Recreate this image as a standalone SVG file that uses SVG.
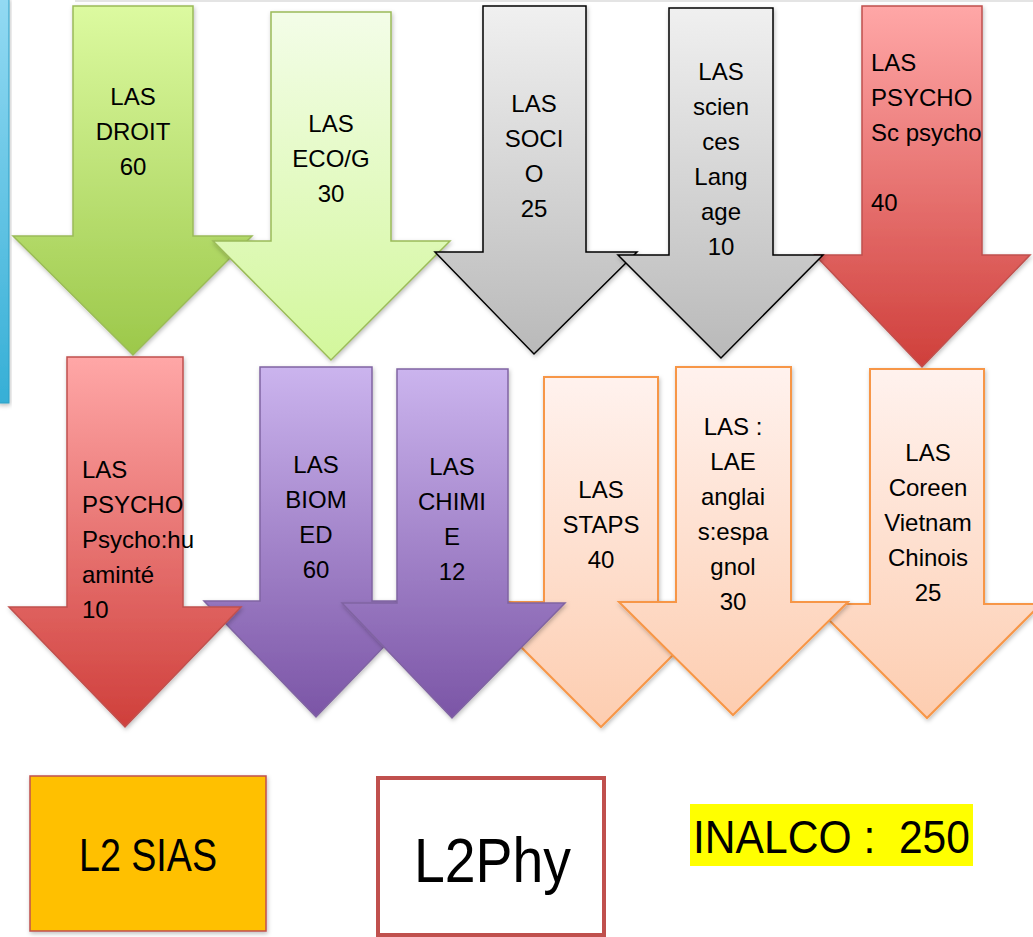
<svg xmlns="http://www.w3.org/2000/svg" width="1033" height="937" viewBox="0 0 1033 937">
<defs>
<linearGradient id="gGreen1" x1="0" y1="0" x2="0" y2="1"><stop offset="0" stop-color="#dcfaa0"/><stop offset="1" stop-color="#9cc84a"/></linearGradient>
<linearGradient id="gGreen2" x1="0" y1="0" x2="0" y2="1"><stop offset="0" stop-color="#f3fde8"/><stop offset="1" stop-color="#d3f79c"/></linearGradient>
<linearGradient id="gGray" x1="0" y1="0" x2="0" y2="1"><stop offset="0" stop-color="#f0f0f0"/><stop offset="1" stop-color="#b9b9b9"/></linearGradient>
<linearGradient id="gRed" x1="0" y1="0" x2="0" y2="1"><stop offset="0" stop-color="#ffa7a7"/><stop offset="1" stop-color="#cf3f3b"/></linearGradient>
<linearGradient id="gPurple" x1="0" y1="0" x2="0" y2="1"><stop offset="0" stop-color="#cbb4ee"/><stop offset="1" stop-color="#7b55a6"/></linearGradient>
<linearGradient id="gOrange" x1="0" y1="0" x2="0" y2="1"><stop offset="0" stop-color="#fff2ee"/><stop offset="1" stop-color="#fdcdb0"/></linearGradient>
<linearGradient id="gBlue" x1="0" y1="0" x2="0" y2="1"><stop offset="0" stop-color="#93daf3"/><stop offset="1" stop-color="#36afd6"/></linearGradient>
<filter id="sh" x="-10%" y="-10%" width="130%" height="130%"><feDropShadow dx="1" dy="2" stdDeviation="2" flood-color="#000" flood-opacity="0.25"/></filter>
</defs>
<style>
.t{font-family:"Liberation Sans",Arial,sans-serif;font-size:24px;fill:#000}
.c{text-anchor:middle}
.green1{fill:url(#gGreen1);stroke:#9bbb59;stroke-width:1.5}
.green2{fill:url(#gGreen2);stroke:#9bbb59;stroke-width:1.5}
.gray{fill:url(#gGray);stroke:#000;stroke-width:1.5}
.red{fill:url(#gRed);stroke:#c0504d;stroke-width:1.5}
.purple{fill:url(#gPurple);stroke:#8064a2;stroke-width:1.5}
.orange{fill:url(#gOrange);stroke:#f79646;stroke-width:2}
.big{font-family:"Liberation Sans",Arial,sans-serif;fill:#000;white-space:pre}
</style>
<rect x="0" y="0" width="1033" height="937" fill="#fff"/>
<rect x="75" y="0" width="958" height="2" fill="#e4e4e4"/>
<g id="bluebar"><rect x="-2" y="-2" width="11" height="405" fill="url(#gBlue)" stroke="#2f9fc4" stroke-width="1" filter="url(#sh)"/></g>

<g id="las-droit">
<polygon class="green1" filter="url(#sh)" points="73,6 193,6 193,236 252,236 133,355 13,236 73,236"/>
<text class="t c"><tspan x="133" y="105">LAS</tspan><tspan x="133" y="140">DROIT</tspan><tspan x="133" y="175">60</tspan></text>
</g>
<g id="las-eco">
<polygon class="green2" filter="url(#sh)" points="271,12 391,12 391,241 450,241 331,360 213,241 271,241"/>
<text class="t c"><tspan x="331" y="132">LAS</tspan><tspan x="331" y="167">ECO/G</tspan><tspan x="331" y="202">30</tspan></text>
</g>
<g id="las-socio">
<polygon class="gray" filter="url(#sh)" points="483,6 586,6 586,252 637,252 534,354 435,252 483,252"/>
<text class="t c"><tspan x="534" y="112">LAS</tspan><tspan x="534" y="147">SOCI</tspan><tspan x="534" y="182">O</tspan><tspan x="534" y="217">25</tspan></text>
</g>
<g id="las-psycho-sc">
<polygon class="red" filter="url(#sh)" points="862,6 982,6 982,255 1030,255 922,367 815,255 862,255"/>
<text class="t"><tspan x="871" y="71">LAS</tspan><tspan x="871" y="106">PSYCHO</tspan><tspan x="871" y="141">Sc psycho</tspan><tspan x="871" y="211">40</tspan></text>
</g>
<g id="las-langage">
<polygon class="gray" filter="url(#sh)" points="669,8 773,8 773,255 823,255 721,358 618,255 669,255"/>
<text class="t c"><tspan x="721" y="80">LAS</tspan><tspan x="721" y="115">scien</tspan><tspan x="721" y="150">ces</tspan><tspan x="721" y="185">Lang</tspan><tspan x="721" y="220">age</tspan><tspan x="721" y="255">10</tspan></text>
</g>

<g id="las-coreen">
<polygon class="orange" filter="url(#sh)" points="870,369 984,369 984,604 1041,604 927,718 813,604 870,604"/>
<text class="t c"><tspan x="928" y="461">LAS</tspan><tspan x="928" y="496">Coreen</tspan><tspan x="928" y="531">Vietnam</tspan><tspan x="928" y="566">Chinois</tspan><tspan x="928" y="601">25</tspan></text>
</g>
<g id="las-staps">
<polygon class="orange" filter="url(#sh)" points="544,377 658,377 658,602 726,602 601,727 476,602 544,602"/>
<text class="t c"><tspan x="601" y="498">LAS</tspan><tspan x="601" y="533">STAPS</tspan><tspan x="601" y="568">40</tspan></text>
</g>
<g id="las-lae">
<polygon class="orange" filter="url(#sh)" points="676,367 791,367 791,602 848,602 733,715 619,602 676,602"/>
<text class="t c"><tspan x="733" y="435">LAS :</tspan><tspan x="733" y="470">LAE</tspan><tspan x="733" y="505">anglai</tspan><tspan x="733" y="540">s:espa</tspan><tspan x="733" y="575">gnol</tspan><tspan x="733" y="610">30</tspan></text>
</g>
<g id="las-biomed">
<polygon class="purple" filter="url(#sh)" points="260,367 372,367 372,601 428,601 316,717 204,601 260,601"/>
<text class="t c"><tspan x="316" y="473">LAS</tspan><tspan x="316" y="508">BIOM</tspan><tspan x="316" y="543">ED</tspan><tspan x="316" y="578">60</tspan></text>
</g>
<g id="las-chimie">
<polygon class="purple" filter="url(#sh)" points="397,369 508,369 508,603 565,603 452,718 342,603 397,603"/>
<text class="t c"><tspan x="452" y="475">LAS</tspan><tspan x="452" y="510">CHIMI</tspan><tspan x="452" y="545">E</tspan><tspan x="452" y="580">12</tspan></text>
</g>
<g id="las-psycho-hu">
<polygon class="red" filter="url(#sh)" points="67,357 183,357 183,607 241,607 125,727 9,607 67,607"/>
<text class="t"><tspan x="82" y="478">LAS</tspan><tspan x="82" y="513">PSYCHO</tspan><tspan x="82" y="548">Psycho:hu</tspan><tspan x="82" y="583">aminté</tspan><tspan x="82" y="618">10</tspan></text>
</g>

<g id="l2-sias">
<rect x="30" y="776" width="236" height="155" fill="#ffc000" stroke="#c0504d" stroke-width="1.5" filter="url(#sh)"/>
<text class="big" x="79" y="871" font-size="46" textLength="138" lengthAdjust="spacingAndGlyphs">L2 SIAS</text>
</g>
<g id="l2phy">
<rect x="378" y="778" width="226" height="157" fill="#fff" stroke="#c0504d" stroke-width="4"/>
<text class="big" x="414" y="882" font-size="63" textLength="157" lengthAdjust="spacingAndGlyphs">L2Phy</text>
</g>
<g id="inalco">
<rect x="690" y="804" width="283" height="62" fill="#ffff00"/>
<text class="big" x="693" y="853" font-size="46" textLength="277" lengthAdjust="spacingAndGlyphs" xml:space="preserve">INALCO :  250</text>
</g>
<g id="connectors"/>
</svg>
